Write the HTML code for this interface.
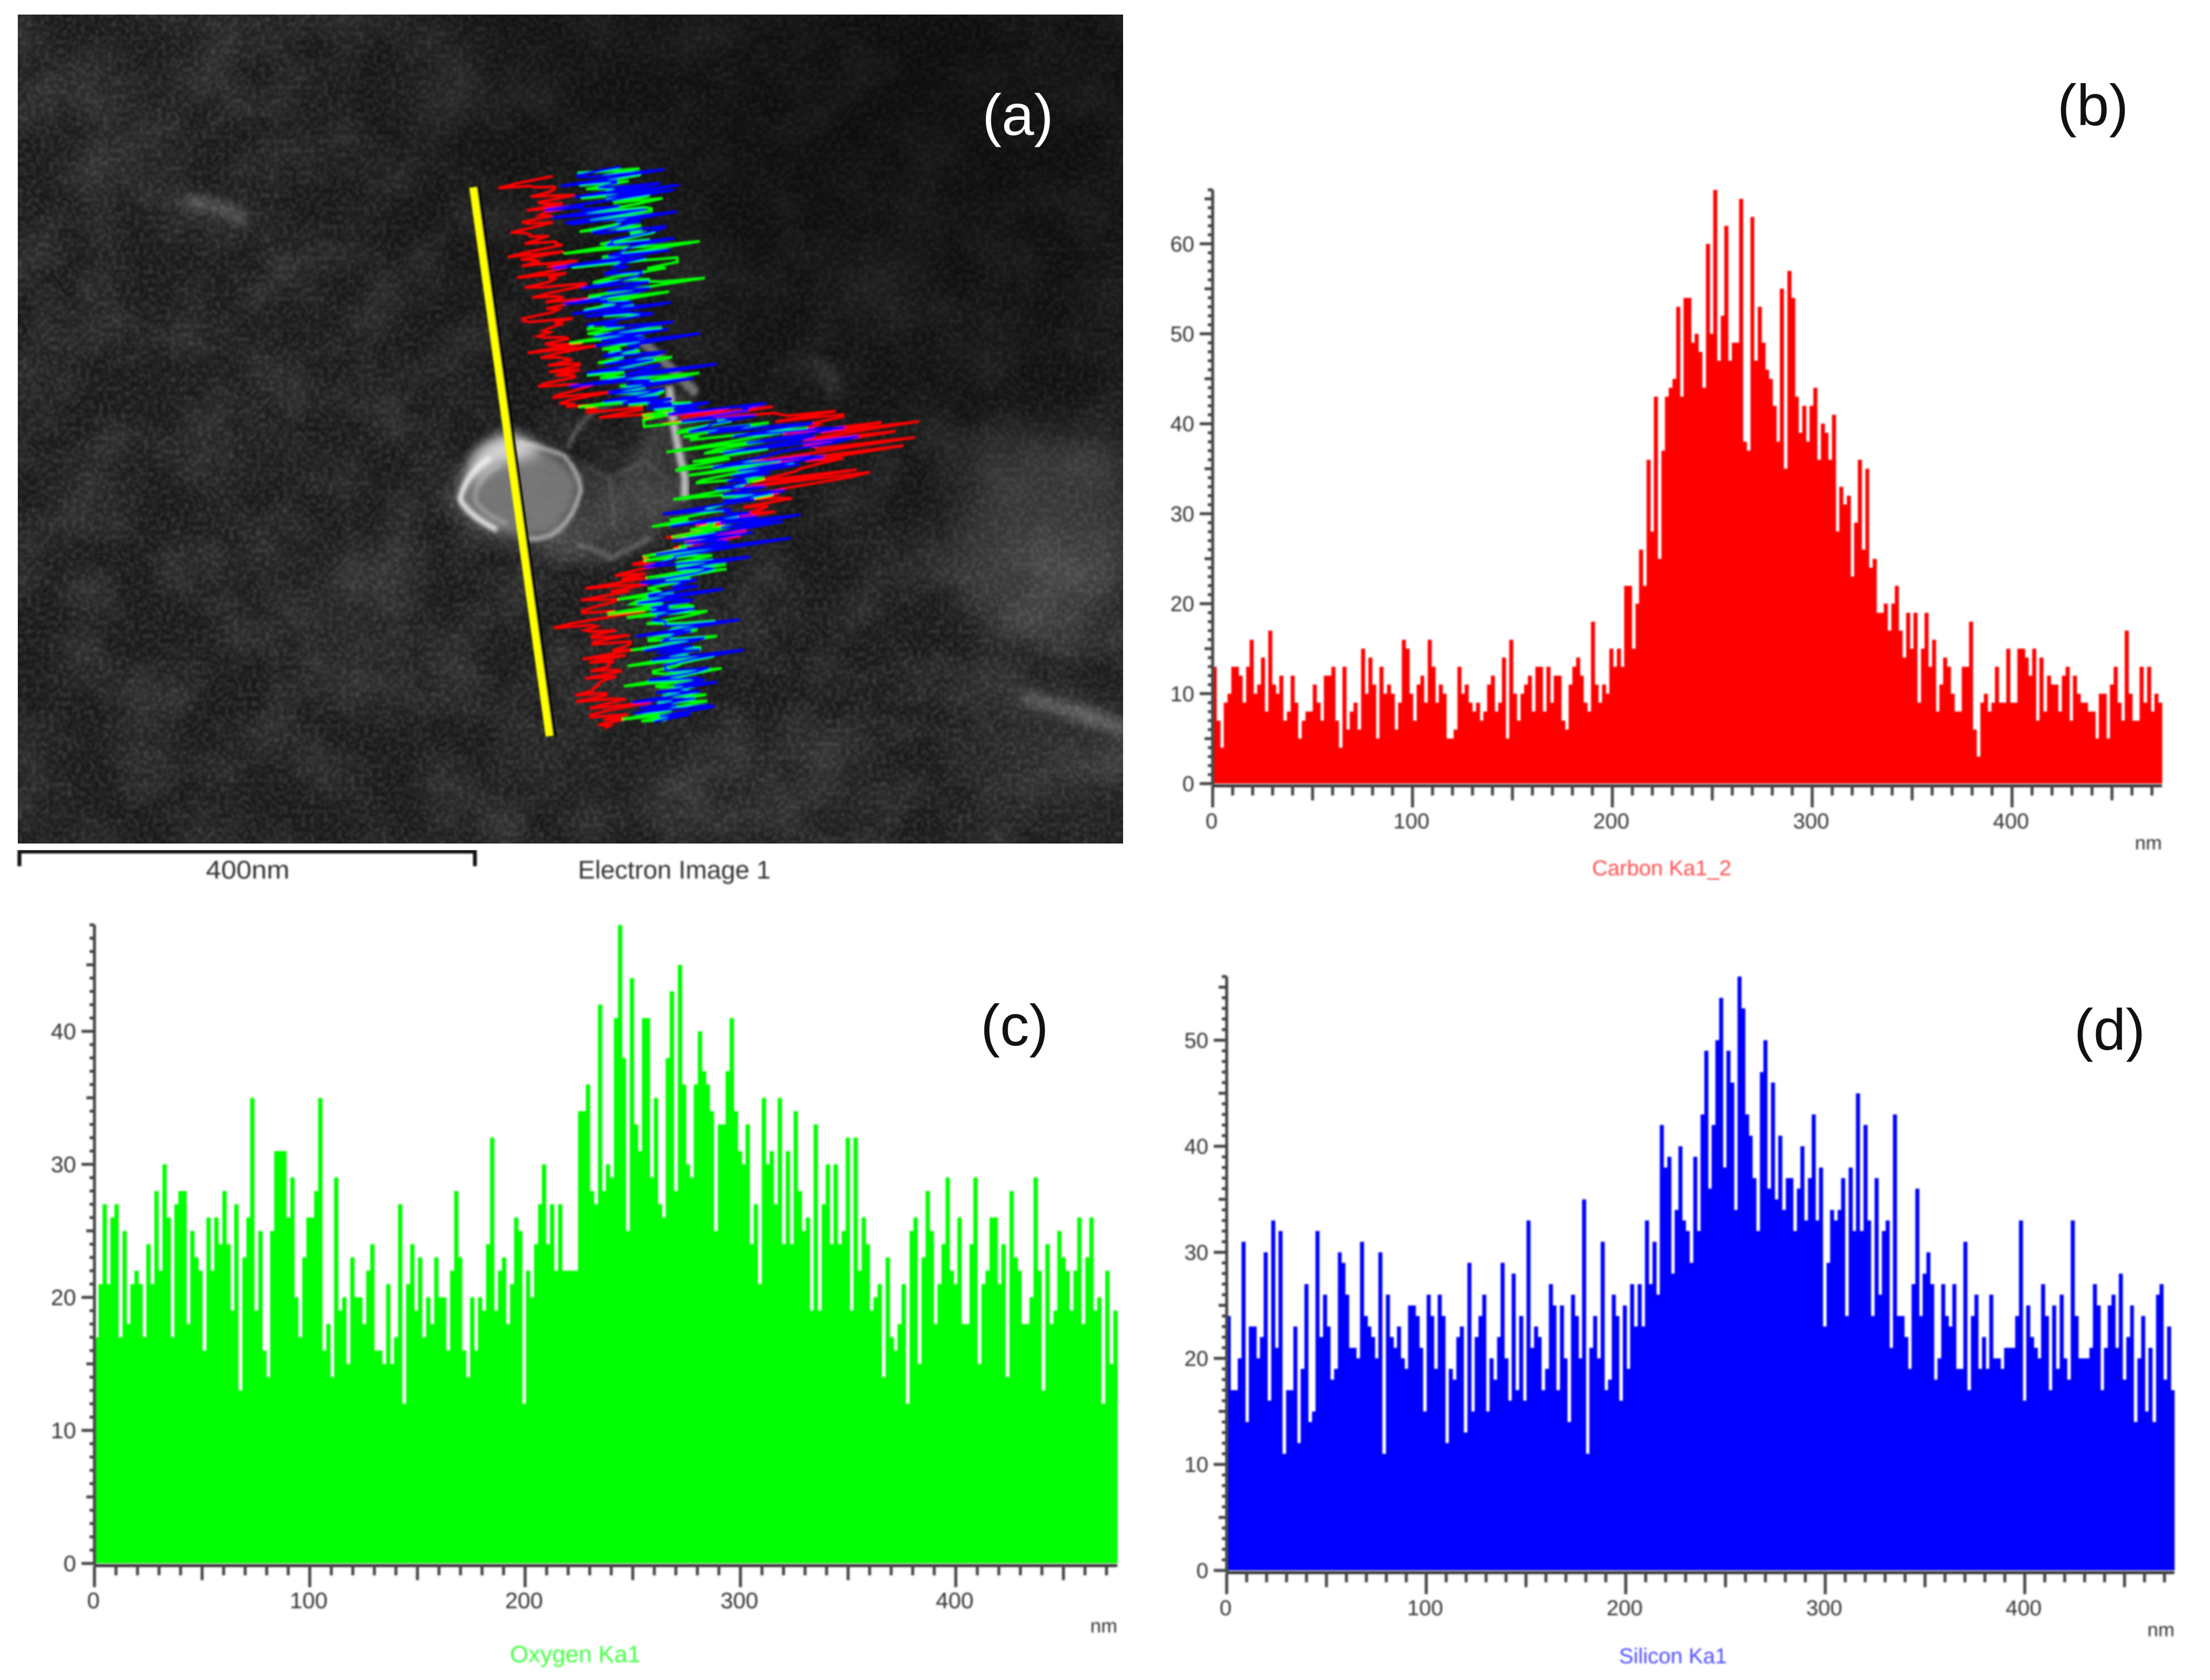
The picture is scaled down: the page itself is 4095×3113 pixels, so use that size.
<!DOCTYPE html>
<html lang="en">
<head>
<meta charset="utf-8">
<title>Electron image with EDS line scans for carbon, oxygen and silicon</title>
<style>
html,body{margin:0;padding:0;background:#fff}
svg{display:block}
text{font-family:"Liberation Sans",sans-serif}
</style>
</head>
<body>
<svg id="figure" xmlns="http://www.w3.org/2000/svg" width="4095" height="3113" viewBox="0 0 4095 3113">
<defs>
<filter id="lowNoise" x="0" y="0" width="100%" height="100%" color-interpolation-filters="sRGB">
<feTurbulence type="fractalNoise" baseFrequency="0.009" numOctaves="3" seed="11"/>
<feColorMatrix type="matrix" values="0 0 0 0 1  0 0 0 0 1  0 0 0 0 1  0.2 0 0 0 -0.075"/>
</filter>
<filter id="highNoise" x="0" y="0" width="100%" height="100%" color-interpolation-filters="sRGB">
<feTurbulence type="fractalNoise" baseFrequency="0.12" numOctaves="2" seed="4"/>
<feColorMatrix type="matrix" values="0 0 0 0 1  0 0 0 0 1  0 0 0 0 1  0 0.32 0 0 -0.125"/>
<feGaussianBlur stdDeviation="1.8"/>
</filter>
<filter id="blur40" x="-50%" y="-50%" width="200%" height="200%"><feGaussianBlur stdDeviation="45"/></filter>
<filter id="blur18" x="-50%" y="-50%" width="200%" height="200%"><feGaussianBlur stdDeviation="18"/></filter>
<filter id="blur12" x="-50%" y="-50%" width="200%" height="200%"><feGaussianBlur stdDeviation="12"/></filter>
<filter id="blur6" x="-30%" y="-30%" width="160%" height="160%"><feGaussianBlur stdDeviation="6"/></filter>
<filter id="soft" x="-5%" y="-5%" width="110%" height="110%"><feGaussianBlur stdDeviation="1.6"/></filter>
<filter id="softText" x="-5%" y="-5%" width="110%" height="110%"><feGaussianBlur stdDeviation="1.7"/></filter>
<radialGradient id="imageShade" cx="0.82" cy="0.12" r="0.62">
<stop offset="0" stop-color="#000" stop-opacity="0.55"/>
<stop offset="0.6" stop-color="#000" stop-opacity="0.3"/>
<stop offset="1" stop-color="#000" stop-opacity="0"/>
</radialGradient>
<clipPath id="imageClip"><rect x="33" y="27" width="2048" height="1536"/></clipPath>
</defs>

<rect x="0" y="0" width="4095" height="3113" fill="#fff"/>

<g id="panel-a">
  <g clip-path="url(#imageClip)">
    <rect x="33" y="27" width="2048" height="1536" fill="#1a1a1a"/>
    <rect x="33" y="27" width="2048" height="1536" filter="url(#lowNoise)"/>
    <rect x="33" y="27" width="2048" height="1536" filter="url(#highNoise)"/>
    <rect x="33" y="27" width="2048" height="1536" fill="url(#imageShade)"/>
    <g filter="url(#blur40)" fill="#fff">
      <ellipse cx="1940" cy="1000" rx="170" ry="200" opacity="0.14"/>
      <ellipse cx="1640" cy="530" rx="100" ry="60" opacity="0.05"/>
      <ellipse cx="1960" cy="1400" rx="160" ry="100" opacity="0.08"/>
      <ellipse cx="230" cy="290" rx="110" ry="80" opacity="0.04"/>
      <ellipse cx="650" cy="1150" rx="120" ry="130" opacity="0.05"/>
      <ellipse cx="800" cy="170" rx="70" ry="60" opacity="0.06"/>
      <ellipse cx="1400" cy="1450" rx="260" ry="100" opacity="0.04"/>
    </g>
    <g filter="url(#blur12)" fill="none" stroke="#fff" stroke-linecap="round">
      <path d="M350 372 Q410 375 450 410" stroke-width="14" opacity="0.4"/>
      <path d="M1900 1290 Q1990 1320 2085 1350" stroke-width="22" opacity="0.33"/>
      <path d="M1510 670 Q1540 680 1545 730" stroke-width="14" opacity="0.18"/>
    </g>
    <g transform="translate(800 280) scale(.638 .7015)">
      <path d="M40 930 Q80 790 210 740 Q320 760 430 830 L520 870 Q610 800 690 620 L760 640 L750 900 L640 1040 L510 1095 L300 1070 L160 1040 Q60 990 40 930Z" fill="#fff" opacity="0.12" filter="url(#blur18)"/>
      <path d="M80 920 Q90 810 140 780 Q210 745 300 785 Q390 810 425 875 Q420 950 345 1005 Q260 1030 180 1000 Q100 975 80 920Z" fill="#868686" opacity="0.78" filter="url(#blur12)"/>
      <path d="M115 840 Q130 775 220 745 Q280 755 320 795 Q250 820 180 830 Q140 860 115 880Z" fill="#e4e4e4" opacity="0.85" filter="url(#blur18)"/>
      <path d="M170 810 Q100 850 82 920 Q110 965 190 1000" fill="none" stroke="#f4f4f4" stroke-width="15" opacity="0.92" filter="url(#blur6)"/>
      <path d="M200 830 Q130 860 125 920 Q150 960 220 985" fill="none" stroke="#cfcfcf" stroke-width="9" opacity="0.55" filter="url(#blur6)"/>
      <path d="M250 770 Q320 780 385 805 Q435 860 432 900 Q405 985 345 1015 Q300 1030 260 1020" fill="none" stroke="#e4e4e4" stroke-width="10" opacity="0.8" filter="url(#blur6)"/>
      <path d="M395 780 Q430 710 480 685 L680 620" fill="none" stroke="#bbb" stroke-width="8" opacity="0.5" filter="url(#blur6)"/>
      <path d="M690 620 Q700 740 735 860 L735 920" fill="none" stroke="#e8e8e8" stroke-width="22" opacity="0.75" filter="url(#blur6)"/>
      <path d="M570 480 Q640 520 690 570 L770 640" fill="none" stroke="#ddd" stroke-width="26" opacity="0.45" filter="url(#blur6)"/>
      <path d="M420 1040 Q480 1050 520 1075 L640 1020" fill="none" stroke="#aaa" stroke-width="10" opacity="0.5" filter="url(#blur6)"/>
      <path d="M520 860 L620 820 L700 880 M430 820 L520 870 L530 1000" fill="none" stroke="#888" stroke-width="6" opacity="0.4" filter="url(#blur6)"/>
    </g>
    <g id="overlay" filter="url(#soft)"></g>
  </g>
  <text x="1886" y="250" font-size="108" fill="#fff" text-anchor="middle">(a)</text>
  <g filter="url(#softText)">
    <path d="M36 1605 V1578 H880 V1605" fill="none" stroke="#111" stroke-width="7"/>
    <text x="459" y="1628" font-size="47" fill="#333" text-anchor="middle" textLength="155" lengthAdjust="spacingAndGlyphs">400nm</text>
    <text x="1071" y="1628" font-size="47" fill="#333" textLength="357" lengthAdjust="spacingAndGlyphs">Electron Image 1</text>
  </g>
</g>

<g id="panel-b"></g>
<g id="panel-c"></g>
<g id="panel-d"></g>

<text x="3878" y="232" font-size="108" fill="#111" text-anchor="middle">(b)</text>
<text x="1880" y="1937" font-size="108" fill="#111" text-anchor="middle">(c)</text>
<text x="3909" y="1945" font-size="108" fill="#111" text-anchor="middle">(d)</text>
</svg>

<script>
var carbonValues = [13,7,4,9,10,13,13,12,9,13,16,10,11,14,8,17,11,10,12,7,8,12,9,5,7,8,8,11,9,7,12,12,13,7,4,13,6,8,9,6,15,10,14,11,5,13,10,11,10,6,9,16,15,10,7,11,12,9,16,13,9,11,10,5,5,6,13,10,11,9,8,9,7,8,11,12,8,9,14,5,16,10,7,10,11,12,8,13,13,8,13,9,12,12,7,6,11,13,14,12,9,8,18,11,9,11,10,15,13,15,13,22,22,15,20,26,22,36,28,43,25,37,43,44,45,53,43,54,54,49,50,48,44,60,50,66,47,52,62,47,49,49,65,38,37,63,47,53,49,46,45,42,38,55,35,57,54,43,39,42,38,42,44,36,40,39,36,41,28,33,31,32,23,29,36,26,35,24,25,19,19,20,17,20,22,17,14,19,15,19,9,15,19,13,16,8,11,14,13,10,8,8,13,13,18,6,3,9,10,8,9,13,9,9,15,9,9,15,15,14,12,15,7,14,8,12,11,11,8,12,13,7,12,10,9,9,8,8,5,10,10,5,11,13,9,7,17,10,7,7,13,9,13,8,10,9];
var oxygenValues = [17,21,27,21,26,27,17,25,18,21,22,21,17,24,21,28,22,30,26,17,27,28,28,18,25,23,22,16,26,22,26,24,28,24,19,27,13,23,26,35,19,25,16,14,25,31,31,31,26,29,20,17,23,26,26,28,35,16,18,14,29,19,20,15,23,20,20,18,22,24,16,16,15,21,15,17,27,12,21,24,19,23,17,20,18,23,20,20,16,22,28,23,16,14,20,16,20,19,24,32,19,22,23,18,21,26,25,12,22,20,24,27,30,24,27,22,27,22,22,22,22,34,34,36,28,27,42,28,30,29,41,48,38,25,44,33,31,41,41,29,35,27,26,38,43,28,45,36,30,29,36,40,37,36,34,25,33,33,37,41,34,31,30,33,24,27,21,35,30,31,27,35,24,31,24,34,28,25,26,19,33,19,27,30,24,30,24,25,32,19,32,22,26,24,19,20,21,14,23,17,16,18,21,12,25,26,15,23,28,25,18,21,24,29,22,21,26,18,18,24,29,15,21,22,26,26,21,24,14,28,23,22,18,18,20,29,22,13,24,18,19,25,23,22,19,22,26,18,23,26,19,20,12,22,15,19];
var siliconValues = [24,17,17,20,31,14,23,23,20,22,30,16,33,21,32,11,17,17,23,12,19,27,14,15,32,22,26,23,18,19,30,29,26,21,21,20,31,24,23,22,20,30,11,26,22,21,23,20,19,25,25,24,21,15,26,24,19,26,24,12,19,18,22,23,13,29,15,22,24,26,15,20,18,22,29,20,16,28,17,24,16,33,21,23,22,17,19,27,25,17,25,20,14,26,24,20,35,11,21,24,20,31,17,18,26,24,16,25,19,27,23,27,23,33,27,31,26,42,38,39,28,34,40,33,32,29,39,32,43,49,36,42,50,54,38,49,46,34,56,53,43,41,37,32,47,50,36,46,35,41,34,37,37,32,36,40,33,37,43,33,38,23,29,34,33,34,37,24,38,32,45,32,42,33,24,37,26,32,33,21,43,24,24,22,19,27,36,24,28,30,27,18,20,27,24,23,27,19,19,31,17,24,26,19,22,19,26,20,20,19,21,21,21,24,33,16,25,22,21,20,27,24,17,25,19,26,20,18,33,24,20,20,20,21,27,25,17,21,25,26,21,28,18,22,25,14,20,24,15,21,14,26,27,18,23,17];

var xTickLabels = [0,100,200,300,400];
var carbonTickLabels = [0,10,20,30,40,50,60];
var oxygenTickLabels = [0,10,20,30,40];
var siliconTickLabels = [0,10,20,30,40,50];

var SCAN_LENGTH_NM = 475;
var NS = 'http://www.w3.org/2000/svg';

function make(tag, parent, attrs) {
  var node = document.createElementNS(NS, tag);
  for (var key in attrs) node.setAttribute(key, attrs[key]);
  parent.appendChild(node);
  return node;
}

function drawChart(panelId, values, tickLabels, topCount, color, titleColor, title, box) {
  var panel = document.getElementById(panelId);
  function xScale(nm) { return box.x0 + nm * box.pxPerNm; }
  function yScale(count) { return box.y0 - count * box.pxPerCount; }

  var bars = make('g', panel, {filter: 'url(#soft)', 'shape-rendering': 'crispEdges'});
  
  
  var binNm = SCAN_LENGTH_NM / values.length;
  values.forEach(function (value, i) {
    var left = xScale(i * binNm);
    var right = xScale((i + 1) * binNm);
    var bar = make('rect', bars, {x: left, y: yScale(value), width: right - left + 0.6, height: box.y0 - yScale(value), fill: color});
    
    
  });

  var axes = make('g', panel, {filter: 'url(#soft)', stroke: '#444', 'stroke-width': 5.5, fill: 'none'});
  
  
  var yAxis = make('line', axes, {x1: box.x0, x2: box.x0, y1: yScale(topCount), y2: box.y0 + 3});
  
  
  var xAxis = make('line', axes, {x1: box.x0, x2: xScale(SCAN_LENGTH_NM), y1: box.y0 + 4, y2: box.y0 + 4, stroke: '#333'});
  
  

  for (var count = 0; count <= topCount; count++) {
    var yLen = count % 10 === 0 ? 24 : (count % 5 === 0 ? 15 : 9);
    var yTick = make('line', axes, {x1: box.x0 - yLen, x2: box.x0, y1: yScale(count), y2: yScale(count)});
    
    
  }
  for (var nm = 0; nm <= SCAN_LENGTH_NM; nm += 10) {
    var xLen = nm % 100 === 0 ? 40 : (nm % 50 === 0 ? 27 : 18);
    var xTick = make('line', axes, {x1: xScale(nm), x2: xScale(nm), y1: box.y0 + 4, y2: box.y0 + 4 + xLen});
    
    
  }

  var labels = make('g', panel, {filter: 'url(#softText)', fill: '#333', 'font-size': box.fontSize});
  
  
  tickLabels.forEach(function (value) {
    var yLabel = make('text', labels, {x: box.x0 - 34, y: yScale(value) + box.fontSize * 0.35, 'text-anchor': 'end'});
    yLabel.textContent = value;
    
    
  });
  xTickLabels.forEach(function (value) {
    var xLabel = make('text', labels, {x: xScale(value) - 2, y: box.y0 + 83, 'text-anchor': 'middle'});
    xLabel.textContent = value;
    
    
  });
  var unit = make('text', labels, {x: xScale(SCAN_LENGTH_NM), y: box.y0 + box.unitDy, 'text-anchor': 'end', 'font-size': 36});
  unit.textContent = 'nm';
  
  
  var heading = make('text', labels, {x: box.titleX, y: box.y0 + box.titleDy, 'text-anchor': 'middle', fill: titleColor, 'font-size': box.titleSize});
  heading.textContent = title;
  
  
}

function drawOverlay() {
  var overlay = document.getElementById('overlay');
  var startX = 876.5, startY = 347, endX = 1018, endY = 1364;
  var dx = endX - startX, dy = endY - startY;
  var len = Math.sqrt(dx * dx + dy * dy);
  var perpX = dy / len, perpY = -dx / len;
  var pxPerCount = 11.5;

  function scanPoint(i, n, value) {
    var t = i / (n - 1);
    return (startX + dx * t + perpX * pxPerCount * value).toFixed(1) + ',' +
           (startY + dy * t + perpY * pxPerCount * value).toFixed(1);
  }

  var shadow = make('line', overlay, {x1: startX + 5, y1: startY, x2: endX + 5, y2: endY, stroke: '#000', 'stroke-width': 15});
  
  
  var scanLine = make('line', overlay, {x1: startX, y1: startY, x2: endX, y2: endY, stroke: '#ffff00', 'stroke-width': 14});
  
  

  var redPoints = carbonValues.map(function (v, i, a) { return scanPoint(i, a.length, v); }).join(' ');
  var greenPoints = oxygenValues.map(function (v, i, a) { return scanPoint(i, a.length, v); }).join(' ');
  var bluePoints = siliconValues.map(function (v, i, a) { return scanPoint(i, a.length, v); }).join(' ');

  var redLine = make('polyline', overlay, {points: redPoints, fill: 'none', stroke: '#ff0000', 'stroke-width': 5});
  
  
  var greenLine = make('polyline', overlay, {points: greenPoints, fill: 'none', stroke: '#00ff00', 'stroke-width': 5});
  
  
  var blueLine = make('polyline', overlay, {points: bluePoints, fill: 'none', stroke: '#0000ff', 'stroke-width': 5});
  
  
}

drawChart('panel-b', carbonValues, carbonTickLabels, 66, '#ff0000', '#ff4d4d', 'Carbon Ka1_2',
  {x0: 2247, pxPerNm: 3.703, y0: 1452, pxPerCount: 16.67, fontSize: 40, titleX: 3079, titleDy: 170, titleSize: 40, unitDy: 122});
drawChart('panel-c', oxygenValues, oxygenTickLabels, 48, '#00ff00', '#40ff40', 'Oxygen Ka1',
  {x0: 175, pxPerNm: 3.99, y0: 2897, pxPerCount: 24.65, fontSize: 42, titleX: 1066, titleDy: 183, titleSize: 44, unitDy: 128});
drawChart('panel-d', siliconValues, siliconTickLabels, 56, '#0000ff', '#4d4dff', 'Silicon Ka1',
  {x0: 2273, pxPerNm: 3.697, y0: 2910, pxPerCount: 19.65, fontSize: 40, titleX: 3100, titleDy: 172, titleSize: 40, unitDy: 122});
drawOverlay();
</script>
</body>
</html>
